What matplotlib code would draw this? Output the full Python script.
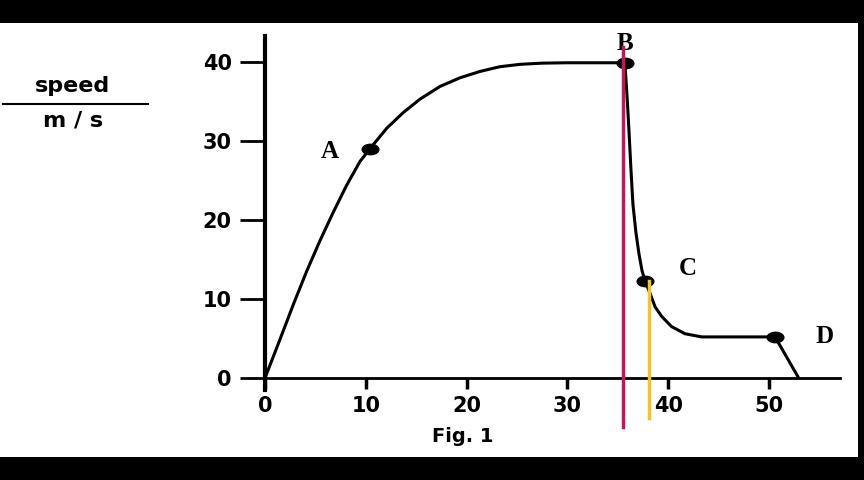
import numpy as np
import matplotlib
matplotlib.use("Agg")
import matplotlib.pyplot as plt
from matplotlib.patches import Rectangle
from matplotlib.path import Path
from matplotlib.transforms import Affine2D

# speed-time curve
time_s = [0, 1.49, 2.81, 4.13, 5.46, 6.78, 8.10, 9.42, 10.4, 12.07, 13.72,
          15.38, 17.36, 19.35, 21.33, 23.3, 25.3, 27.5, 30.0, 33.0, 35.7,
          35.9, 36.1, 36.3, 36.5, 36.8, 37.1, 37.4, 37.7,
          38.2, 38.7, 39.35, 40.34, 41.67, 43.32, 50.6, 52.9]
speed = [0, 4.9, 9.3, 13.5, 17.4, 21.0, 24.4, 27.4, 29.0, 31.6, 33.6,
         35.3, 36.9, 38.0, 38.8, 39.4, 39.7, 39.85, 39.9, 39.9, 39.9,
         36.0, 31.5, 26.5, 22.0, 18.4, 15.7, 13.6, 12.3,
         10.7, 9.0, 7.8, 6.5, 5.6, 5.2, 5.2, 0.1]

point_names = ["A", "B", "C", "D"]
point_t = [10.4, 35.7, 37.7, 50.6]
point_v = [29.0, 39.9, 12.3, 5.2]
label_t = [6.4, 35.7, 41.9, 55.5]
label_v = [28.7, 42.4, 13.8, 5.2]

red_t = [35.55, 35.55]
red_v = [-6.2, 41.9]
yellow_t = [38.1, 38.1]
yellow_v = [12.3, -5.1]

xticks = [0, 10, 20, 30, 40, 50]
yticks = [0, 10, 20, 30, 40]

W, H = 864, 480
fig = plt.figure(figsize=(W / 100, H / 100), dpi=100)
fig.patch.set_facecolor("black")
fig.patches.append(Rectangle((0, 23 / H), 858 / W, (457 - 23) / H,
                             transform=fig.transFigure, facecolor="white",
                             edgecolor="none", zorder=-10))

ax = fig.add_axes([234.76 / W, 50.65 / H, (843.6 - 234.76) / W, (444.9 - 50.65) / H])
ax.set_facecolor("none")
ax.set_zorder(5)
ax.set_xlim(-3, 57.4)
ax.set_ylim(-6.5, 43.4)

for s in ["top", "right"]:
    ax.spines[s].set_visible(False)
ax.spines["left"].set_position(("data", 0))
ax.spines["bottom"].set_position(("data", 0))
ax.spines["left"].set_bounds(-1.5, 43.3)
ax.spines["bottom"].set_bounds(0, 57)
ax.spines["left"].set_linewidth(3)
ax.spines["bottom"].set_linewidth(2)

ax.set_xticks(xticks)
ax.set_yticks(yticks)
ax.tick_params(axis="y", direction="out", length=18, width=2, pad=6,
               labelsize=15)
ax.tick_params(axis="x", direction="out", length=8, width=2.5, pad=5,
               labelsize=15)
for lab in ax.get_xticklabels() + ax.get_yticklabels():
    lab.set_fontweight("bold")

ax.plot(time_s, speed, color="black", lw=2.2, solid_capstyle="round",
        solid_joinstyle="round", zorder=3)

dot = Path.unit_circle().transformed(Affine2D().scale(1.6, 1.0))
ax.plot(point_t, point_v, ls="none", marker=dot, markersize=12,
        color="black", zorder=4)
for name, tx, ty in zip(point_names, label_t, label_v):
    ax.text(tx, ty, name, fontsize=18, fontweight="bold", family="Liberation Serif",
            ha="center", va="center", zorder=5)

ax.plot(red_t, red_v, color="#C2185B", lw=2.5, clip_on=False, zorder=6)
ax.plot(yellow_t, yellow_v, color="#F2C230", lw=2.5, clip_on=False, zorder=6)

# y label written as a fraction: speed / (m/s)
fig.text(73 / W, 1 - 86 / H, "speed", fontsize=16, fontweight="bold",
         ha="center", va="center")
fig.add_artist(plt.Line2D([3 / W, 148 / W], [1 - 104 / H, 1 - 104 / H],
                          transform=fig.transFigure, color="black", lw=1.5))
fig.text(73 / W, 1 - 120 / H, "m / s", fontsize=16, fontweight="bold",
         ha="center", va="center")

fig.text(463 / W, 1 - 437 / H, "Fig. 1", fontsize=14, fontweight="bold",
         ha="center", va="center")

fig.savefig("out.png", dpi=100, facecolor=fig.get_facecolor())
